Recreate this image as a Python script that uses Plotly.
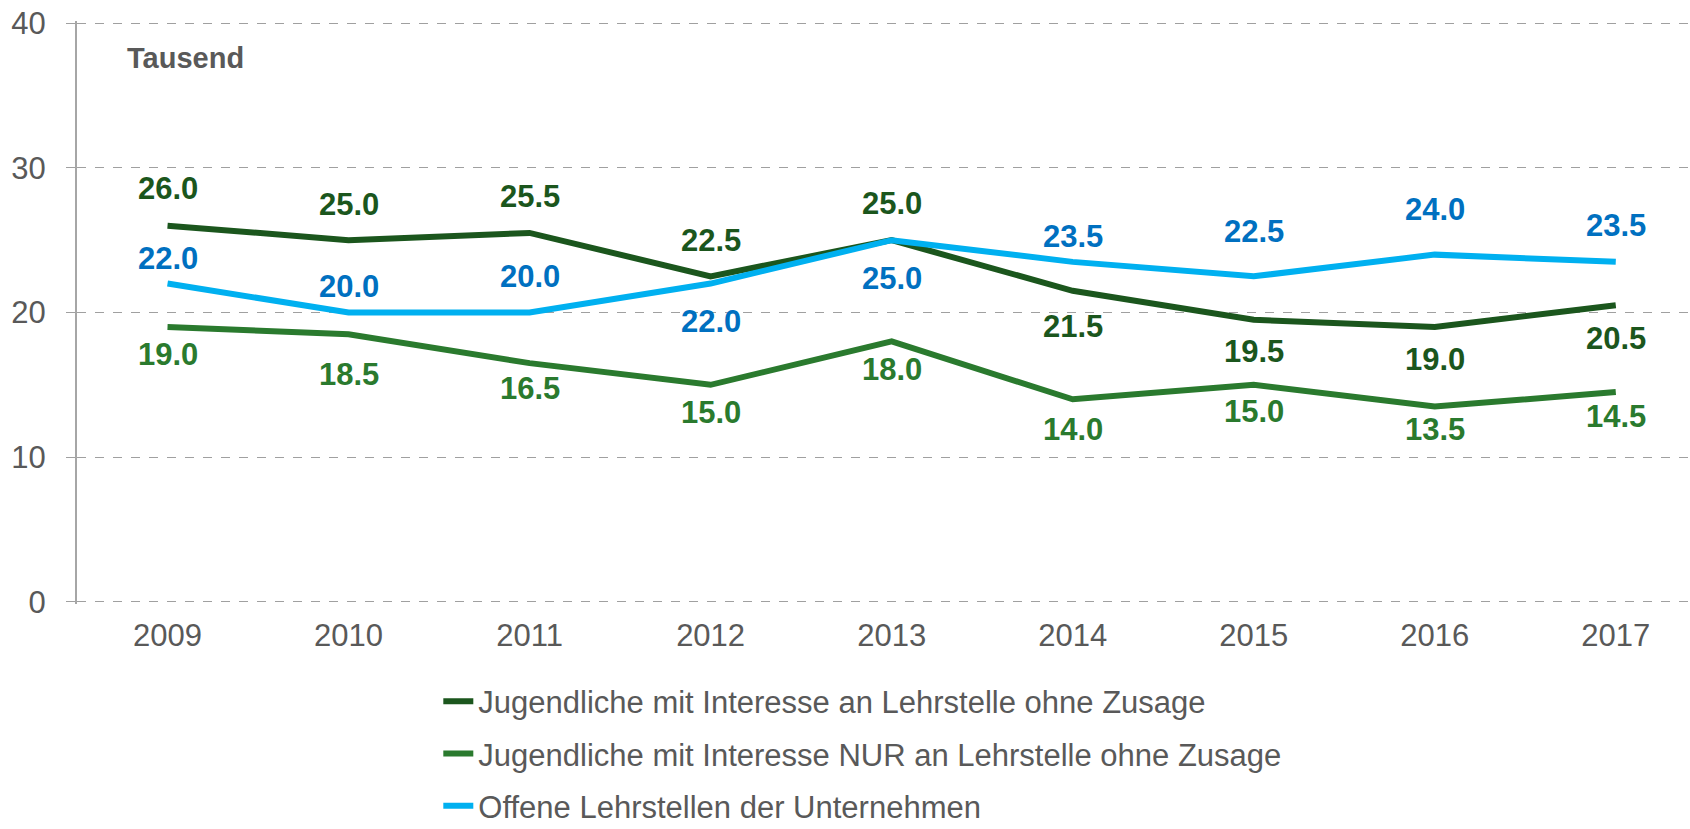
import plotly.graph_objects as go

# ---- data ----
years = ["2009", "2010", "2011", "2012", "2013", "2014", "2015", "2016", "2017"]
series_names = [
    "Jugendliche mit Interesse an Lehrstelle ohne Zusage",
    "Jugendliche mit Interesse NUR an Lehrstelle ohne Zusage",
    "Offene Lehrstellen der Unternehmen",
]
jugendliche_interesse = [26.0, 25.0, 25.5, 22.5, 25.0, 21.5, 19.5, 19.0, 20.5]
jugendliche_nur = [19.0, 18.5, 16.5, 15.0, 18.0, 14.0, 15.0, 13.5, 14.5]
offene_lehrstellen = [22.0, 20.0, 20.0, 22.0, 25.0, 23.5, 22.5, 24.0, 23.5]
y_ticks = [0, 10, 20, 30, 40]
unit_label = "Tausend"

# ---- styles ----
line_colors = ["#1b561d", "#2a7a2e", "#00b0f0"]
label_colors = ["#1b561d", "#2a7a2e", "#0070c0"]
# pixel offsets of the value labels (negative = above the point)
label_offsets = [
    [-37, -36, -36, -36, -37, 36, 32, 33, 33],
    [28, 40, 25, 28, 28, 30, 27, 23, 24],
    [-25, -26, -36, 38, 38, -25, -45, -45, -36],
]
FONT = "Liberation Sans, Arial, sans-serif"
GRAY = "#595959"

all_series = [jugendliche_interesse, jugendliche_nur, offene_lehrstellen]

fig = go.Figure()
for i, (name, vals) in enumerate(zip(series_names, all_series)):
    fig.add_trace(go.Scatter(
        x=years, y=vals, name=name, mode="lines",
        line=dict(color=line_colors[i], width=6),
        legendgroup=f"g{i}",
        hoverinfo="x+y+name",
    ))

annotations = []
for i, vals in enumerate(all_series):
    for j, v in enumerate(vals):
        annotations.append(dict(
            x=j, y=v, xref="x", yref="y", text=f"<b>{v:.1f}</b>",
            showarrow=False, yshift=-label_offsets[i][j],
            font=dict(family=FONT, size=31, color=label_colors[i]),
            xanchor="center", yanchor="middle",
        ))

annotations.append(dict(
    x=0.0298, y=0.936, xref="paper", yref="paper", text=f"<b>{unit_label}</b>",
    showarrow=False, xanchor="left", yanchor="middle",
    font=dict(family=FONT, size=29, color=GRAY),
))

fig.update_layout(
    width=1690, height=829,
    margin=dict(l=77, r=0, t=21, b=225, pad=0, autoexpand=False),
    paper_bgcolor="white", plot_bgcolor="white",
    font=dict(family=FONT, size=30, color=GRAY),
    showlegend=True,
    legend=dict(
        x=0.224, y=-0.121, xanchor="left", yanchor="top",
        orientation="v", tracegroupgap=9,
        font=dict(family=FONT, size=31, color=GRAY),
        bgcolor="rgba(0,0,0,0)",
    ),
    annotations=annotations,
    xaxis=dict(
        type="category", range=[-0.5, 8.41],
        showgrid=False, zeroline=False, showline=False,
        ticks="", ticklabelstandoff=10,
        tickfont=dict(family=FONT, size=31, color=GRAY),
    ),
    yaxis=dict(
        range=[-0.15, 40.15], tickvals=y_ticks,
        showgrid=True, gridcolor="#a0a0a0", griddash="dash", gridwidth=1,
        zeroline=False,
        showline=True, linecolor="#a6a6a6", linewidth=2,
        ticks="outside", ticklen=9, tickcolor="#a0a0a0",
        ticklabelstandoff=14,
        tickfont=dict(family=FONT, size=31, color=GRAY),
    ),
)

fig.write_html(
    "out.html",
    config={"displayModeBar": False},
    post_script="document.body.style.margin='0px';document.body.style.overflow='hidden';",
)
